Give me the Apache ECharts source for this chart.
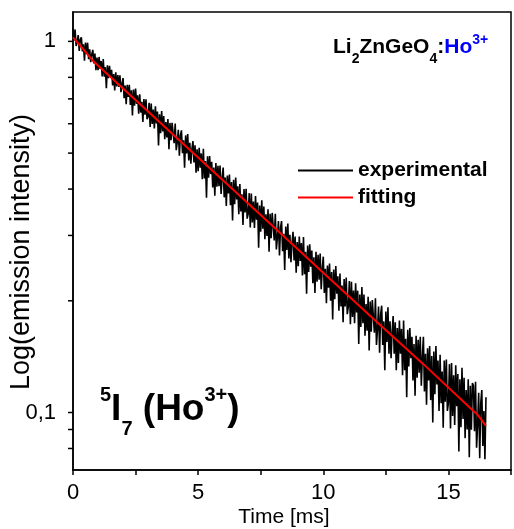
<!DOCTYPE html>
<html>
<head>
<meta charset="utf-8">
<script src="https://cdn.jsdelivr.net/npm/echarts@6.0.0/dist/echarts.min.js"></script>
<style>
  html, body { margin: 0; padding: 0; background: #fff; }
  #main { width: 514px; height: 529px; }
</style>
</head>
<body>
<div id="main"></div>
<script>
// decay of 5I7 (Ho3+) in Li2ZnGeO4
const expStep = 1 / 24; // ms between samples
const expValues = [
  // 0-1 ms
  1.082, 1.005, 1.077, 0.972, 0.997, 1.040, 0.943, 1.012, 1.026, 0.940, 0.982, 0.887,
  0.993, 0.926, 0.992, 0.896, 0.952, 0.879, 0.922, 0.949, 0.872, 0.927, 0.836, 0.905,
  // 1-2 ms
  0.836, 0.908, 0.843, 0.885, 0.804, 0.896, 0.803, 0.852, 0.748, 0.862, 0.796, 0.859,
  0.803, 0.838, 0.761, 0.816, 0.737, 0.826, 0.756, 0.812, 0.754, 0.810, 0.730, 0.771,
  // 2-3 ms
  0.796, 0.703, 0.760, 0.677, 0.764, 0.708, 0.764, 0.674, 0.738, 0.632, 0.742, 0.671,
  0.746, 0.679, 0.716, 0.638, 0.720, 0.643, 0.687, 0.607, 0.699, 0.635, 0.698, 0.617,
  // 3-4 ms
  0.626, 0.683, 0.588, 0.680, 0.599, 0.655, 0.583, 0.669, 0.601, 0.647, 0.524, 0.636,
  0.566, 0.649, 0.572, 0.629, 0.545, 0.606, 0.551, 0.618, 0.512, 0.603, 0.542, 0.603,
  // 4-5 ms
  0.599, 0.532, 0.601, 0.509, 0.535, 0.578, 0.492, 0.558, 0.576, 0.500, 0.541, 0.457,
  0.558, 0.499, 0.563, 0.478, 0.533, 0.468, 0.512, 0.539, 0.472, 0.525, 0.443, 0.512,
  // 5-6 ms
  0.447, 0.517, 0.457, 0.499, 0.425, 0.514, 0.427, 0.476, 0.379, 0.490, 0.429, 0.491,
  0.439, 0.474, 0.404, 0.457, 0.384, 0.470, 0.406, 0.462, 0.407, 0.463, 0.388, 0.429,
  // 6-7 ms
  0.457, 0.380, 0.430, 0.360, 0.435, 0.389, 0.438, 0.362, 0.418, 0.329, 0.424, 0.364,
  0.430, 0.375, 0.407, 0.342, 0.413, 0.348, 0.387, 0.320, 0.400, 0.346, 0.401, 0.333,
  // 7-8 ms
  0.343, 0.390, 0.315, 0.389, 0.325, 0.370, 0.314, 0.383, 0.331, 0.368, 0.278, 0.361,
  0.307, 0.373, 0.313, 0.359, 0.293, 0.342, 0.299, 0.353, 0.271, 0.343, 0.295, 0.345,
  // 8-9 ms
  0.341, 0.291, 0.343, 0.275, 0.296, 0.328, 0.265, 0.315, 0.328, 0.272, 0.303, 0.242,
  0.317, 0.274, 0.323, 0.260, 0.301, 0.254, 0.286, 0.307, 0.257, 0.298, 0.238, 0.288,
  // 9-10 ms
  0.248, 0.298, 0.256, 0.286, 0.234, 0.297, 0.236, 0.271, 0.209, 0.282, 0.239, 0.284,
  0.247, 0.273, 0.223, 0.262, 0.210, 0.271, 0.225, 0.266, 0.228, 0.268, 0.215, 0.244,
  // 10-11 ms
  0.263, 0.210, 0.244, 0.197, 0.249, 0.217, 0.252, 0.200, 0.239, 0.178, 0.243, 0.202,
  0.248, 0.209, 0.233, 0.188, 0.237, 0.193, 0.220, 0.175, 0.229, 0.193, 0.231, 0.184,
  // 11-12 ms
  0.193, 0.226, 0.173, 0.225, 0.181, 0.213, 0.174, 0.223, 0.186, 0.213, 0.153, 0.208,
  0.170, 0.218, 0.174, 0.208, 0.161, 0.196, 0.166, 0.205, 0.147, 0.199, 0.165, 0.201,
  // 12-13 ms
  0.201, 0.164, 0.203, 0.152, 0.168, 0.193, 0.145, 0.184, 0.194, 0.152, 0.176, 0.130,
  0.187, 0.155, 0.192, 0.144, 0.176, 0.140, 0.165, 0.182, 0.144, 0.175, 0.130, 0.169,
  // 13-14 ms
  0.136, 0.177, 0.144, 0.168, 0.126, 0.177, 0.130, 0.158, 0.110, 0.167, 0.133, 0.169,
  0.140, 0.160, 0.122, 0.153, 0.111, 0.161, 0.124, 0.157, 0.128, 0.160, 0.118, 0.141,
  // 14-15 ms
  0.160, 0.114, 0.144, 0.105, 0.149, 0.122, 0.151, 0.108, 0.142, 0.094, 0.146, 0.112,
  0.151, 0.119, 0.138, 0.101, 0.143, 0.106, 0.129, 0.091, 0.138, 0.107, 0.139, 0.101,
  // 15-16 ms
  0.106, 0.135, 0.0906, 0.136, 0.0978, 0.126, 0.0926, 0.134, 0.104, 0.127, 0.0785, 0.123,
  0.0913, 0.132, 0.0961, 0.124, 0.0853, 0.115, 0.0900, 0.123, 0.0758, 0.118, 0.0898, 0.120,
  // 16-16.5 ms
  0.118, 0.0890, 0.121, 0.0804, 0.0930, 0.113, 0.0753, 0.106, 0.115, 0.0812, 0.101, 0.0748,
  0.110
];
const fitTime = [0, 0.4, 0.8, 2, 4, 6, 8, 10, 12, 14, 16, 16.15, 16.5];
const fitValue = [1.025, 0.955, 0.886, 0.747, 0.561, 0.422, 0.317, 0.238, 0.179, 0.135, 0.101, 0.099, 0.092];

const xLabelValues = [0, 5, 10, 15];
const yLabelValues = [0.1, 1];
const yTickValues = [0.08, 0.09, 0.1, 0.2, 0.3, 0.4, 0.5, 0.6, 0.7, 0.8, 0.9, 1];

const FONT = '"Liberation Sans", Arial, sans-serif';

let chart = echarts.init(document.getElementById('main'), null, { renderer: 'canvas' });

const option = {
  animation: false,
  backgroundColor: '#fff',
  grid: { left: 73, top: 12, width: 469, height: 458, show: true, borderColor: '#000', borderWidth: 1.5 },
  legend: {
    orient: 'vertical',
    left: 298,
    top: 160,
    padding: 0,
    itemWidth: 55,
    itemHeight: 2,
    itemGap: 6,
    icon: 'rect',
    selectedMode: false,
    textStyle: { fontFamily: FONT, fontSize: 21, fontWeight: 'bold', color: '#000' },
    data: ['experimental', 'fitting']
  },
  xAxis: {
    type: 'value',
    min: 0,
    max: 17.5,
    interval: 2.5,
    axisLine: { lineStyle: { color: '#000', width: 1.5 } },
    axisTick: { length: 5, lineStyle: { color: '#000', width: 1.5 } },
    splitLine: { show: false },
    axisLabel: {
      margin: 12,
      color: '#000',
      fontFamily: FONT,
      fontSize: 22,
      formatter: v => xLabelValues.includes(v) ? String(v) : ''
    }
  },
  yAxis: {
    type: 'log',
    logBase: 10,
    min: 0.07,
    max: 1.2,
    axisLine: { lineStyle: { color: '#000', width: 1.5 } },
    axisTick: { show: false },
    splitLine: { show: false },
    axisLabel: {
      margin: 17,
      color: '#000',
      fontFamily: FONT,
      fontSize: 22,
      formatter: v => {
        const hit = yLabelValues.find(t => Math.abs(v - t) < t * 1e-6);
        return hit === undefined ? '' : String(hit).replace('.', ',');
      }
    }
  },
  series: [
    {
      name: 'experimental',
      type: 'line',
      showSymbol: false,
      color: '#000',
      lineStyle: { color: '#000', width: 1.6 },
      emphasis: { disabled: true },
      data: expValues.map((v, i) => [i * expStep, v])
    },
    {
      name: 'fitting',
      type: 'line',
      showSymbol: false,
      color: '#ff0000',
      lineStyle: { color: '#ff0000', width: 2 },
      emphasis: { disabled: true },
      data: fitTime.map((t, i) => [t, fitValue[i]])
    }
  ]
};

chart.setOption(option);

// y ticks (decade + minor) drawn through the axis scale
const x0 = chart.convertToPixel({ xAxisIndex: 0 }, 0);
const tickMarks = yTickValues.map(v => {
  const y = chart.convertToPixel({ yAxisIndex: 0 }, v);
  return {
    type: 'line',
    shape: { x1: x0 - 5, y1: y, x2: x0, y2: y },
    style: { stroke: '#000', lineWidth: 1.5 }
  };
});

chart.setOption({
  graphic: tickMarks.concat([
    {
      type: 'text',
      rotation: Math.PI / 2,
      x: 22,
      y: 252,
      style: {
        text: 'Log(emission intensity)',
        fontFamily: FONT,
        fontSize: 27,
        fill: '#000',
        align: 'center',
        verticalAlign: 'middle'
      }
    },
    {
      type: 'text',
      x: 284,
      y: 517,
      style: {
        text: 'Time [ms]',
        fontFamily: FONT,
        fontSize: 21,
        fill: '#000',
        align: 'center',
        verticalAlign: 'middle'
      }
    },
    {
      type: 'text',
      x: 333,
      y: 47.5,
      style: {
        text: '{m|Li}{s|2}{m|ZnGeO}{s|4}{m|:}{h|Ho}{hs|3+}',
        align: 'left',
        verticalAlign: 'middle',
        lineHeight: 40,
        rich: {
          m: { fontFamily: FONT, fontSize: 21, fontWeight: 'bold', fill: '#000', lineHeight: 40 },
          s: { fontFamily: FONT, fontSize: 14, fontWeight: 'bold', fill: '#000', padding: [24, 0, 0, 0] },
          h: { fontFamily: FONT, fontSize: 21, fontWeight: 'bold', fill: '#0000ff', lineHeight: 40 },
          hs: { fontFamily: FONT, fontSize: 14, fontWeight: 'bold', fill: '#0000ff', padding: [0, 0, 14, 0] }
        }
      }
    },
    {
      type: 'text',
      x: 100,
      y: 410,
      style: {
        text: '{p|5}{b|I}{q|7}{b| (Ho}{p|3+}{b|)}',
        align: 'left',
        verticalAlign: 'middle',
        lineHeight: 70,
        rich: {
          b: { fontFamily: FONT, fontSize: 37, fontWeight: 'bold', fill: '#000', lineHeight: 70 },
          p: { fontFamily: FONT, fontSize: 20, fontWeight: 'bold', fill: '#000', padding: [0, 0, 30, 0] },
          q: { fontFamily: FONT, fontSize: 20, fontWeight: 'bold', fill: '#000', padding: [38, 0, 0, 0] }
        }
      }
    }
  ])
});
</script>
</body>
</html>
